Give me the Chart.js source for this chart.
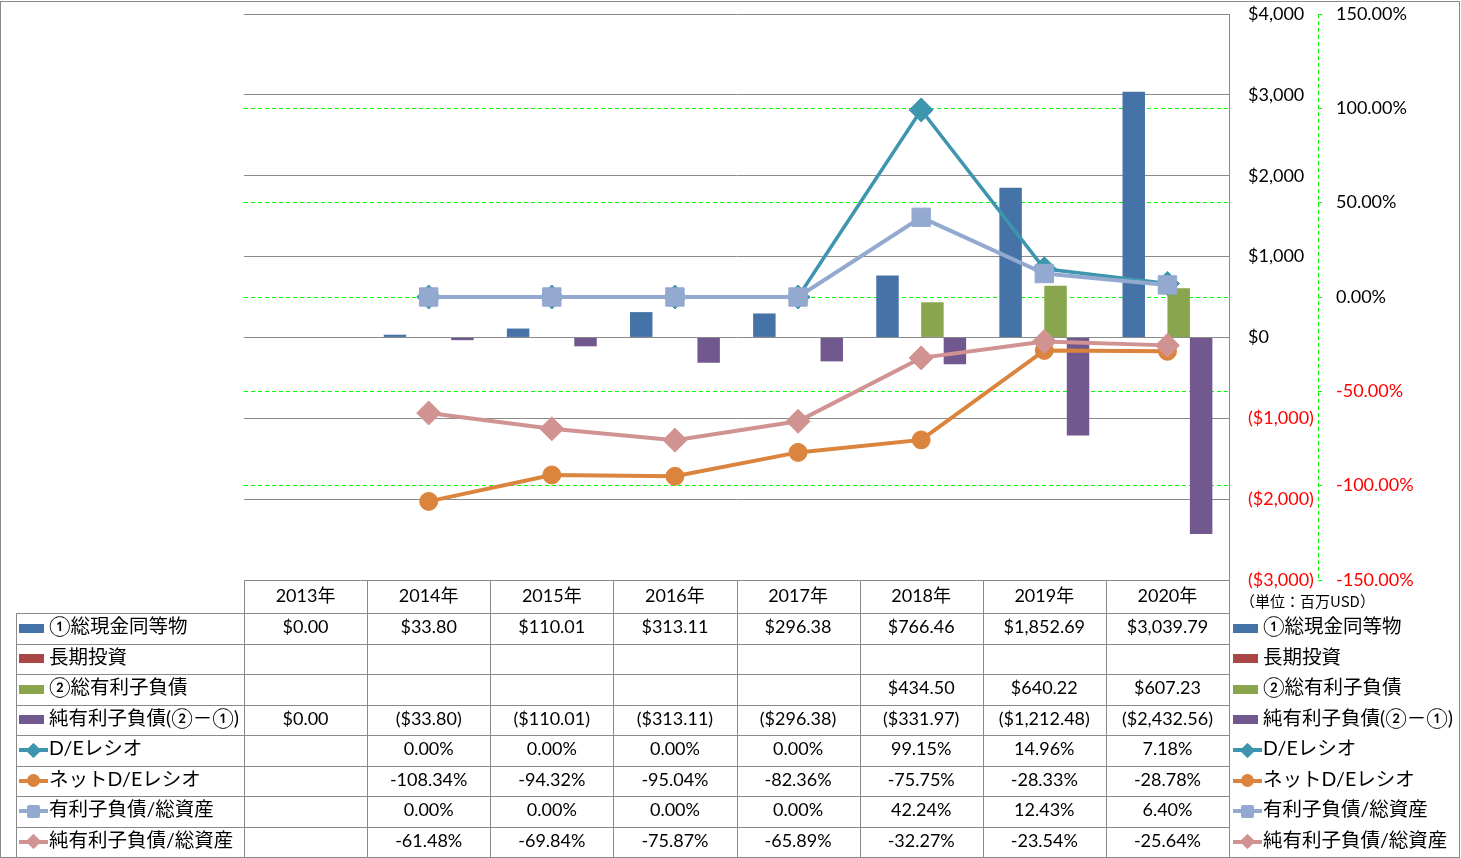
<!DOCTYPE html>
<html>
<head>
<meta charset="utf-8">
<script src="https://cdn.jsdelivr.net/npm/chart.js@4.4.1/dist/chart.umd.min.js"></script>
<style>
html,body{margin:0;padding:0;background:#fff;}
#wrap{position:relative;width:1461px;height:858px;overflow:hidden;background:#fff;}
#c{position:absolute;left:0;top:0;}
#frame{position:absolute;left:0;top:1px;width:1460px;height:857px;border:1px solid #8a8a8a;box-sizing:border-box;pointer-events:none;}
.hl{position:absolute;height:1px;background:#8a8a8a;}
.vl{position:absolute;width:1px;background:#8a8a8a;}
.cell{position:absolute;display:flex;align-items:center;justify-content:center;font-family:Lato,"Noto Sans CJK JP",sans-serif;font-size:18px;line-height:18px;color:#000;white-space:nowrap;}
.lab{position:absolute;display:flex;align-items:center;font-family:Lato,"Noto Sans CJK JP",sans-serif;font-size:19.5px;line-height:20px;color:#000;white-space:nowrap;}
.unit{position:absolute;font-family:"Noto Sans CJK JP",sans-serif;font-size:15px;line-height:16px;color:#000;white-space:nowrap;}
.sw{position:absolute;}
</style>
</head>
<body>
<div id="wrap">
<canvas id="c" width="1461" height="858"></canvas>
<div id="table"></div>
<div id="frame"></div>
</div>
<script>
// ---- data ----
const years = ['2013年','2014年','2015年','2016年','2017年','2018年','2019年','2020年'];
const cash = [0, 33.80, 110.01, 313.11, 296.38, 766.46, 1852.69, 3039.79];
const longInv = [null, null, null, null, null, null, null, null];
const debt = [null, null, null, null, null, 434.50, 640.22, 607.23];
const netDebt = [0, -33.80, -110.01, -313.11, -296.38, -331.97, -1212.48, -2432.56];
const deRatio = [null, 0, 0, 0, 0, 99.15, 14.96, 7.18];
const netDeRatio = [null, -108.34, -94.32, -95.04, -82.36, -75.75, -28.33, -28.78];
const debtToAssets = [null, 0, 0, 0, 0, 42.24, 12.43, 6.40];
const netDebtToAssets = [null, -61.48, -69.84, -75.87, -65.89, -32.27, -23.54, -25.64];
const seriesNames = ['①総現金同等物','長期投資','②総有利子負債','純有利子負債(②－①)','D/Eレシオ','ネットD/Eレシオ','有利子負債/総資産','純有利子負債/総資産'];
const unitLabel = '（単位：百万USD）';

const C = {
  blue:'#4572A7', red:'#AA4643', green:'#89A54E', purple:'#71588F',
  teal:'#3D96AE', orange:'#DB843D', lblue:'#93A9CF', pink:'#D19392'
};
const GRID_GRAY = '#8a8a8a';
const GRID_GREEN = '#00ff00';

function fmtMoney(v){
  if (v === null || v === undefined) return '';
  const s = '$' + Math.abs(v).toLocaleString('en-US',{minimumFractionDigits:2,maximumFractionDigits:2});
  return v < 0 ? '(' + s + ')' : s;
}
function fmtPct(v){
  if (v === null || v === undefined) return '';
  return v.toFixed(2) + '%';
}
function fmtAxisMoney(v){
  const s = '$' + Math.abs(v).toLocaleString('en-US');
  return v < 0 ? '(' + s + ')' : s;
}

Chart.defaults.font.family = 'Lato, "Noto Sans CJK JP", sans-serif';
Chart.defaults.font.size = 18;
Chart.defaults.color = '#000';

// dashed border for the secondary axis (Chart.js border line is solid)
const dashedBorder = {
  id:'dashedBorder',
  afterDraw(chart){
    const s = chart.scales.y1;
    const ctx = chart.ctx;
    ctx.save();
    ctx.strokeStyle = GRID_GREEN;
    ctx.lineWidth = 1;
    ctx.setLineDash([4,3]);
    const x = Math.round(s.left) + 0.5;
    ctx.beginPath();
    ctx.moveTo(x, chart.chartArea.top);
    ctx.lineTo(x, chart.chartArea.bottom);
    ctx.stroke();
    ctx.restore();
  }
};

const lineCommon = {type:'line', yAxisID:'y1', tension:0, borderWidth:4, spanGaps:false, pointBorderWidth:1};
const noPad = (s)=>{ s.paddingTop = 0; s.paddingBottom = 0; };

const chart = new Chart(document.getElementById('c'), {
  data: {
    labels: years,
    datasets: [
      {...lineCommon, label:seriesNames[7], data:netDebtToAssets, borderColor:C.pink, backgroundColor:C.pink, pointBackgroundColor:C.pink, pointBorderColor:C.pink, pointStyle:'rectRot', pointRadius:12, order:1},
      {...lineCommon, label:seriesNames[6], data:debtToAssets, borderColor:C.lblue, backgroundColor:C.lblue, pointBackgroundColor:C.lblue, pointBorderColor:C.lblue, pointStyle:'rect', pointRadius:13, order:2},
      {...lineCommon, label:seriesNames[5], data:netDeRatio, borderColor:C.orange, backgroundColor:C.orange, pointBackgroundColor:C.orange, pointBorderColor:C.orange, pointStyle:'circle', pointRadius:9, order:3},
      {...lineCommon, label:seriesNames[4], data:deRatio, borderColor:C.teal, backgroundColor:C.teal, pointBackgroundColor:C.teal, pointBorderColor:C.teal, pointStyle:'rectRot', pointRadius:12, borderWidth:3.5, order:4},
      {type:'bar', label:seriesNames[0], data:cash, backgroundColor:C.blue, yAxisID:'y', order:10, barPercentage:1, categoryPercentage:0.73},
      {type:'bar', label:seriesNames[1], data:longInv, backgroundColor:C.red, yAxisID:'y', order:11, barPercentage:1, categoryPercentage:0.73},
      {type:'bar', label:seriesNames[2], data:debt, backgroundColor:C.green, yAxisID:'y', order:12, barPercentage:1, categoryPercentage:0.73},
      {type:'bar', label:seriesNames[3], data:netDebt, backgroundColor:C.purple, yAxisID:'y', order:13, barPercentage:1, categoryPercentage:0.73}
    ]
  },
  options: {
    responsive:false,
    animation:false,
    devicePixelRatio:1,
    layout:{padding:{left:244, top:13, right:43, bottom:278}},
    plugins:{legend:{display:false}, tooltip:{enabled:false}},
    scales:{
      x:{type:'category', display:false, offset:true, grid:{display:false}},
      y:{
        position:'right', weight:0, min:-3000, max:4000,
        ticks:{stepSize:1000, padding:19, callback:(v)=>fmtAxisMoney(v),
               color:(ctx)=> (ctx.tick && ctx.tick.value < 0) ? '#FF0000' : '#000', font:{size:18}},
        grid:{color:GRID_GRAY, lineWidth:1, drawTicks:false},
        border:{display:true, color:GRID_GRAY, width:1},
        afterFit:(s)=>{ s.width = 89; noPad(s); }
      },
      y1:{
        position:'right', weight:1, min:-150, max:150,
        ticks:{stepSize:50, padding:14, callback:(v)=>v.toFixed(2)+'%',
               color:(ctx)=> (ctx.tick && ctx.tick.value < 0) ? '#FF0000' : '#000', font:{size:18}},
        grid:{
          color:(ctx)=> (ctx.tick && Math.abs(ctx.tick.value) >= 150) ? 'rgba(0,0,0,0)' : GRID_GREEN,
          lineWidth:1, drawTicks:true, tickLength:4, tickBorderDash:[], tickColor:GRID_GREEN, drawOnChartArea:true},
        border:{display:false, dash:[4,3]},
        afterFit:(s)=>{ s.width = 100; noPad(s); }
      }
    }
  },
  plugins:[dashedBorder]
});

// ---- data table built from the chart's own x scale ----
(function buildTable(){
  const t = document.getElementById('table');
  const ca = chart.chartArea;
  const xs = chart.scales.x;
  const n = years.length;
  const colW = (ca.right - ca.left) / n;
  const top = ca.bottom;
  const headH = 33;
  const rowH = 30.5;
  const labL = 16;
  const textShift = -2;
  const rows = [
    {name:seriesNames[0], vals:cash.map(fmtMoney), key:{type:'bar', color:C.blue}},
    {name:seriesNames[1], vals:longInv.map(fmtMoney), key:{type:'bar', color:C.red}},
    {name:seriesNames[2], vals:debt.map(fmtMoney), key:{type:'bar', color:C.green}},
    {name:seriesNames[3], vals:netDebt.map(fmtMoney), key:{type:'bar', color:C.purple}},
    {name:seriesNames[4], vals:deRatio.map(fmtPct), key:{type:'line', color:C.teal, mk:'diamond'}},
    {name:seriesNames[5], vals:netDeRatio.map(fmtPct), key:{type:'line', color:C.orange, mk:'circle'}},
    {name:seriesNames[6], vals:debtToAssets.map(fmtPct), key:{type:'line', color:C.lblue, mk:'square'}},
    {name:seriesNames[7], vals:netDebtToAssets.map(fmtPct), key:{type:'line', color:C.pink, mk:'diamond'}}
  ];
  const bottom = Math.round(top + headH + rowH * rows.length);
  function add(cls, style, text){
    const d = document.createElement('div');
    d.className = cls;
    Object.assign(d.style, style);
    if (text !== undefined) d.textContent = text;
    t.appendChild(d);
    return d;
  }
  add('hl', {left:ca.left+'px', top:Math.round(top)+'px', width:(ca.right-ca.left+1)+'px'});
  for (let i=0;i<=rows.length;i++){
    const y = Math.round(top + headH + rowH*i);
    add('hl', {left:labL+'px', top:y+'px', width:(ca.right-labL+1)+'px'});
  }
  add('vl', {left:labL+'px', top:Math.round(top+headH)+'px', height:(bottom-Math.round(top+headH))+'px'});
  for (let k=0;k<=n;k++){
    const x = Math.round(xs.getPixelForValue(0) - colW/2 + k*colW);
    add('vl', {left:x+'px', top:Math.round(top)+'px', height:(bottom-Math.round(top))+'px'});
  }
  years.forEach((y,i)=>{
    const cx = xs.getPixelForValue(i);
    add('cell', {left:(cx-colW/2)+'px', top:(top+textShift)+'px', width:colW+'px', height:headH+'px'}, y);
  });
  function key(x, cy, k){
    if (k.type==='bar'){
      add('sw', {left:x+'px', top:(cy-4.5)+'px', width:'25px', height:'9px', background:k.color});
    } else {
      add('sw', {left:x+'px', top:(cy-2)+'px', width:'29px', height:'4px', background:k.color});
      const mx = x + 14.5;
      if (k.mk==='diamond'){
        add('sw', {left:(mx-5.5)+'px', top:(cy-5.5)+'px', width:'11px', height:'11px', background:k.color, transform:'rotate(45deg)', borderRadius:'1px'});
      } else if (k.mk==='circle'){
        add('sw', {left:(mx-6.5)+'px', top:(cy-6.5)+'px', width:'13px', height:'13px', background:k.color, borderRadius:'50%'});
      } else {
        add('sw', {left:(mx-6.5)+'px', top:(cy-6.5)+'px', width:'13px', height:'13px', background:k.color, borderRadius:'2px'});
      }
    }
  }
  rows.forEach((r,ri)=>{
    const y0 = top + headH + rowH*ri;
    const cy = y0 + rowH/2;
    key(19, cy, r.key);
    add('lab', {left:'49px', top:(y0+textShift)+'px', height:rowH+'px'}, r.name);
    key(1233, cy, r.key);
    add('lab', {left:'1263px', top:(y0+textShift)+'px', height:rowH+'px'}, r.name);
    r.vals.forEach((v,i)=>{
      const cx = xs.getPixelForValue(i);
      add('cell', {left:(cx-colW/2)+'px', top:(y0+textShift)+'px', width:colW+'px', height:rowH+'px'}, v);
    });
  });
  add('unit', {left:'1240px', top:'593px'}, unitLabel);
})();
</script>
</body>
</html>
